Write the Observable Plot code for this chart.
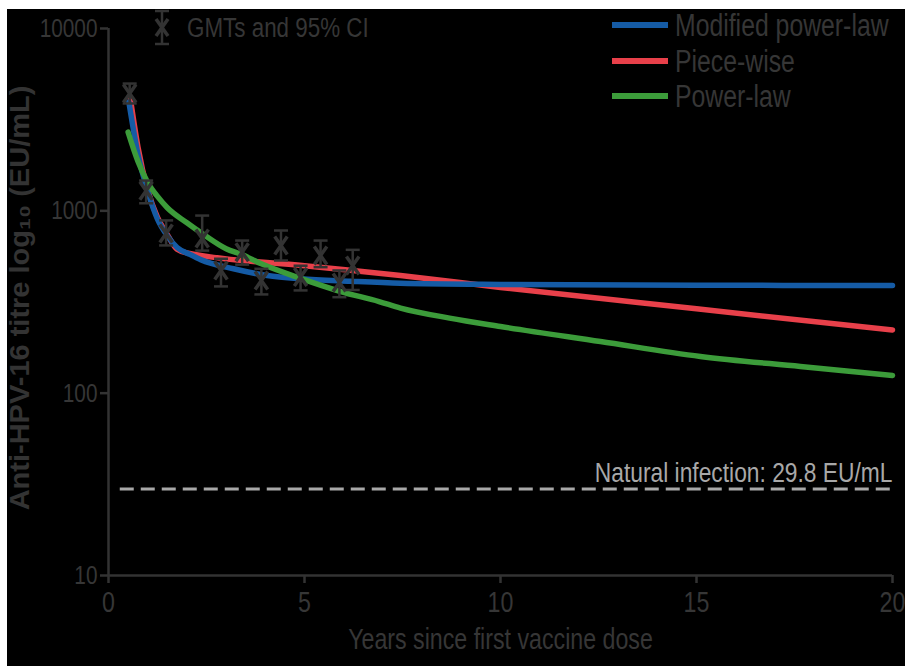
<!DOCTYPE html>
<html><head><meta charset="utf-8">
<script src="https://cdn.jsdelivr.net/npm/d3@7"></script>
<script src="https://cdn.jsdelivr.net/npm/@observablehq/plot@0.6"></script>
<style>
body{margin:0;background:#fff;}
#wrap{position:relative;width:905px;height:666px;overflow:hidden;}
#bg{position:absolute;left:7px;top:9px;right:0;bottom:0;background:#000;}
#chart{position:absolute;left:0;top:0;}
#legend{position:absolute;left:0;top:0;}
</style></head><body>
<div id="wrap"><div id="bg"></div><div id="chart"></div></div>
<script>
// ---- data ----
const gmtYears = [0.54, 0.96, 1.47, 2.39, 2.87, 3.41, 3.90, 4.40, 4.90, 5.41, 5.89, 6.23];
const gmtValues = [4400, 1290, 750, 705, 471, 593, 415, 646, 433, 569, 405, 501];
const ciLow = [3880, 1100, 646, 605, 385, 507, 348, 534, 366, 491, 336, 368];
const ciHigh = [4990, 1466, 886, 942, 546, 687, 481, 780, 500, 687, 471, 611];

const modYears = [0.52, 0.75, 1.0, 1.25, 1.5, 1.75, 2.09, 2.35, 3.19, 4.05, 4.9, 6.17, 7.45, 10, 15, 20];
const modValues = [3950, 2050, 1280, 900, 730, 630, 575, 540, 481, 442, 424, 411, 401, 395, 391, 389];

const pwYears = [0.56, 0.75, 1.0, 1.25, 1.5, 1.75, 2.0, 5, 7.45, 10, 15, 20];
const pwValues = [4100, 2250, 1300, 920, 740, 615, 588, 500, 442, 380, 290, 222];

const plYears = [0.5, 0.75, 1.0, 1.25, 1.5, 2.0, 2.4, 3.0, 3.4, 3.9, 4.9, 5.9, 6.9, 7.45, 8.7, 10, 12.55, 15.1, 17.65, 20];
const plValues = [2700, 1870, 1430, 1200, 1040, 860, 748, 620, 575, 512, 426, 362, 318, 293, 258, 232, 192, 159, 140, 125];

const seriesNames = ["Modified power-law", "Piece-wise", "Power-law"];
const seriesColors = ["#155ba5", "#e8404a", "#3c9c3a"];

const xTicks = [0, 5, 10, 15, 20];
const yTicks = [10, 100, 1000, 10000];
const naturalLevel = 29.8;
const naturalRange = [0.3, 20];
const naturalLabel = "Natural infection: 29.8 EU/mL";
const gmtLabel = "GMTs and 95% CI";
const xTitle = "Years since first vaccine dose";
const yTitle = "Anti-HPV-16 titre log₁₀ (EU/mL)";

// ---- tables ----
const gmtData = gmtYears.map((t, i) => ({t, gmt: gmtValues[i], lo: ciLow[i], hi: ciHigh[i]}));
const mk = (ts, vs, s) => ts.map((t, i) => ({t, v: vs[i], s}));
const modData = mk(modYears, modValues, seriesNames[0]);
const pwData = mk(pwYears, pwValues, seriesNames[1]);
const plData = mk(plYears, plValues, seriesNames[2]);

const FONT = '"Liberation Sans",Arial,sans-serif';
const INK = "#363636";
const capSymbol = {draw(ctx, size) { const r = Math.sqrt(size / Math.PI); ctx.moveTo(-r, 0); ctx.lineTo(r, 0); }};
const tallX = {draw(ctx, size) { const r = Math.sqrt(size / Math.PI); const w = r * 0.7;
  ctx.moveTo(-w, -r); ctx.lineTo(w, r); ctx.moveTo(w, -r); ctx.lineTo(-w, r); }};

const plot = Plot.plot({
  width: 905, height: 666,
  marginLeft: 108, marginRight: 13, marginTop: 28, marginBottom: 91,
  style: {background: "transparent", color: INK, fontFamily: FONT, fontSize: "25px", overflow: "visible"},
  x: {domain: [0, 20]},
  y: {type: "log", domain: [10, 10000]},
  marks: [
    Plot.ruleY([naturalLevel], {x1: naturalRange[0], x2: naturalRange[1], stroke: "#a8a8a8", strokeWidth: 3, strokeDasharray: "14,7"}),
    Plot.text([naturalLabel], {x: naturalRange[1], y: naturalLevel, textAnchor: "end", lineAnchor: "bottom", dy: -7, fill: "#a8a8a8", fontSize: 28.5}),
    Plot.line(pwData, {x: "t", y: "v", stroke: seriesColors[1], strokeWidth: 5.5, curve: "monotone-x"}),
    Plot.line(modData, {x: "t", y: "v", stroke: seriesColors[0], strokeWidth: 5.5, curve: "monotone-x"}),
    Plot.line(plData, {x: "t", y: "v", stroke: seriesColors[2], strokeWidth: 5.5, curve: "monotone-x"}),
    Plot.ruleX(gmtData, {x: "t", y1: "lo", y2: "hi", stroke: "#333", strokeWidth: 2.5}),
    Plot.dot(gmtData, {x: "t", y: "lo", symbol: capSymbol, r: 7, fill: "none", stroke: "#333", strokeWidth: 2.5}),
    Plot.dot(gmtData, {x: "t", y: "hi", symbol: capSymbol, r: 7, fill: "none", stroke: "#333", strokeWidth: 2.5}),
    Plot.dot(gmtData, {x: "t", y: "gmt", symbol: tallX, r: 9, fill: "none", stroke: "#333", strokeWidth: 3.5}),
    Plot.axisX({ticks: xTicks, tickSize: 8, tickPadding: 8, stroke: "#333", strokeWidth: 2.5, fill: INK, fontSize: 29, label: null}),
    Plot.axisY({ticks: yTicks, tickFormat: d => String(d), tickSize: 8, tickPadding: 3, stroke: "#333", strokeWidth: 2.5, fill: INK, fontSize: 26, label: null}),
    Plot.ruleX([0], {stroke: "#333", strokeWidth: 2.5}),
    Plot.ruleY([10], {stroke: "#333", strokeWidth: 2.5}),
    Plot.text([yTitle], {frameAnchor: "left", textAnchor: "middle", rotate: -90, dx: -88, dy: -4, fontSize: 28, fontWeight: "bold", fill: "#333", className: "ytitle"}),
    Plot.text([xTitle], {frameAnchor: "bottom", textAnchor: "middle", dy: 73, fontSize: 29, fill: INK})
  ]
});
const wrap = document.getElementById("wrap");
document.getElementById("chart").appendChild(plot);

// ---- legends (SVG overlay) ----
const NS = "http://www.w3.org/2000/svg";
const lg = document.createElementNS(NS, "svg");
lg.setAttribute("width", 905); lg.setAttribute("height", 666);
lg.setAttribute("id", "legend");
lg.style.fontFamily = FONT;
const rowY = [25, 61, 96];
seriesNames.forEach((name, i) => {
  const ln = document.createElementNS(NS, "line");
  ln.setAttribute("x1", 612); ln.setAttribute("x2", 668);
  ln.setAttribute("y1", rowY[i]); ln.setAttribute("y2", rowY[i]);
  ln.setAttribute("stroke", seriesColors[i]); ln.setAttribute("stroke-width", 6);
  lg.appendChild(ln);
  const tx = document.createElementNS(NS, "text");
  tx.setAttribute("transform", `translate(675,${rowY[i]})`);
  tx.setAttribute("dy", "0.36em");
  tx.setAttribute("font-size", 31); tx.setAttribute("fill", INK);
  tx.textContent = name;
  lg.appendChild(tx);
});
const g = document.createElementNS(NS, "g");
g.setAttribute("stroke", "#333"); g.setAttribute("fill", "none");
g.innerHTML = '<line x1="162" y1="11" x2="162" y2="44" stroke-width="2.5"/><line x1="155" y1="11" x2="169" y2="11" stroke-width="2.5"/><line x1="155" y1="44" x2="169" y2="44" stroke-width="2.5"/>' +
  '<line x1="156" y1="19" x2="168" y2="36" stroke-width="3.5"/><line x1="168" y1="19" x2="156" y2="36" stroke-width="3.5"/>';
lg.appendChild(g);
const gt = document.createElementNS(NS, "text");
gt.setAttribute("transform", "translate(187,27)");
gt.setAttribute("dy", "0.36em");
gt.setAttribute("font-size", 28); gt.setAttribute("fill", INK);
gt.textContent = gmtLabel;
lg.appendChild(gt);
wrap.appendChild(lg);

// ---- condense text horizontally (along its own baseline) to mimic a condensed face ----
const condense = (el, sx) => {
  const tr = el.getAttribute("transform");
  if (tr && !el.hasAttribute("x")) el.setAttribute("transform", `${tr} scale(${sx},1)`);
  else { el.setAttribute("textLength", (el.getComputedTextLength() * sx).toFixed(1)); el.setAttribute("lengthAdjust", "spacingAndGlyphs"); }
};
plot.querySelectorAll("text").forEach(t => {
  if (t.closest(".ytitle")) condense(t, 425 / t.getComputedTextLength());
  else condense(t, 0.8);
});
lg.querySelectorAll("text").forEach(t => condense(t, 0.8));
</script>
</body></html>
